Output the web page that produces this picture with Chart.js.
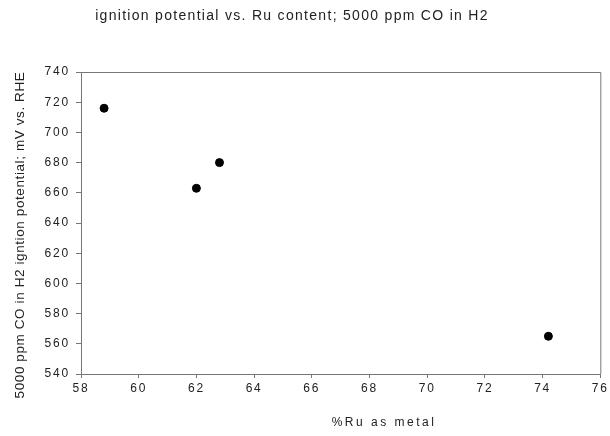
<!DOCTYPE html>
<html>
<head>
<meta charset="utf-8">
<script src="https://cdn.jsdelivr.net/npm/chart.js@4/dist/chart.umd.min.js"></script>
<style>
  html, body { margin: 0; padding: 0; background: #fff; }
  #wrap { width: 610px; height: 436px; }
</style>
</head>
<body>
<div id="wrap"><canvas id="c" width="610" height="436"></canvas></div>
<script>
const chartTitle = "ignition potential vs. Ru content; 5000 ppm CO in H2";
const xTitle = "%Ru as metal";
const yTitle = "5000 ppm CO in H2 igntion potential; mV vs. RHE";
const ruPercent = [58.8, 62.0, 62.8, 74.2];
const ignitionMV = [716, 663, 680, 565];
const xRange = [58, 76, 2];
const yRange = [540, 740, 20];

const points = ruPercent.map((x, i) => ({ x: x, y: ignitionMV[i] }));

const textPlugin = {
  id: 'textPlugin',
  beforeDraw(chart) {
    chart.ctx.letterSpacing = '1.8px';
  },
  afterDraw(chart) {
    const ctx = chart.ctx;
    const a = chart.chartArea;
    ctx.save();
    ctx.strokeStyle = '#777';
    ctx.lineWidth = 1;
    ctx.beginPath();
    ctx.moveTo(a.left, a.top + 0.5);
    ctx.lineTo(a.right + 0.5, a.top + 0.5);
    ctx.lineTo(a.right + 0.5, a.bottom);
    ctx.stroke();
    ctx.fillStyle = '#222';
    ctx.textAlign = 'center';
    ctx.textBaseline = 'middle';
    ctx.letterSpacing = '1.3px';
    ctx.font = '14px "Liberation Sans", Arial, sans-serif';
    ctx.fillText(chartTitle, 292, 16);
    ctx.letterSpacing = '2.5px';
    ctx.font = '12px "Liberation Sans", Arial, sans-serif';
    ctx.fillText(xTitle, 384, 423);
    ctx.letterSpacing = '0.6px';
    ctx.font = '13.5px "Liberation Sans", Arial, sans-serif';
    ctx.translate(20, 235);
    ctx.rotate(-Math.PI / 2);
    ctx.fillText(yTitle, 0, 0);
    ctx.restore();
  }
};

new Chart(document.getElementById('c'), {
  type: 'scatter',
  data: {
    datasets: [{
      data: points,
      backgroundColor: '#000',
      borderColor: '#000',
      pointRadius: 4,
      pointHoverRadius: 4,
      pointStyle: 'circle'
    }]
  },
  options: {
    responsive: false,
    animation: false,
    events: [],
    layout: { padding: { top: 72, right: 7, bottom: 0, left: 0 } },
    plugins: { legend: { display: false }, tooltip: { enabled: false }, title: { display: false } },
    scales: {
      x: {
        type: 'linear',
        min: xRange[0], max: xRange[1],
        afterFit(s) { s.height = 62; },
        ticks: { stepSize: xRange[2], color: '#222', padding: 3, maxRotation: 0,
                 font: { family: '"Liberation Sans", Arial, sans-serif', size: 12 } },
        grid: { drawOnChartArea: false, color: '#777', tickLength: 4 },
        border: { display: true, color: '#777', width: 1 }
      },
      y: {
        type: 'linear',
        min: yRange[0], max: yRange[1],
        afterFit(s) { s.width = 81; },
        ticks: { stepSize: yRange[2], color: '#222', padding: 6,
                 font: { family: '"Liberation Sans", Arial, sans-serif', size: 12 } },
        grid: { drawOnChartArea: false, color: '#777', tickLength: 5 },
        border: { display: true, color: '#777', width: 1 }
      }
    }
  },
  plugins: [textPlugin]
});
</script>
</body>
</html>
